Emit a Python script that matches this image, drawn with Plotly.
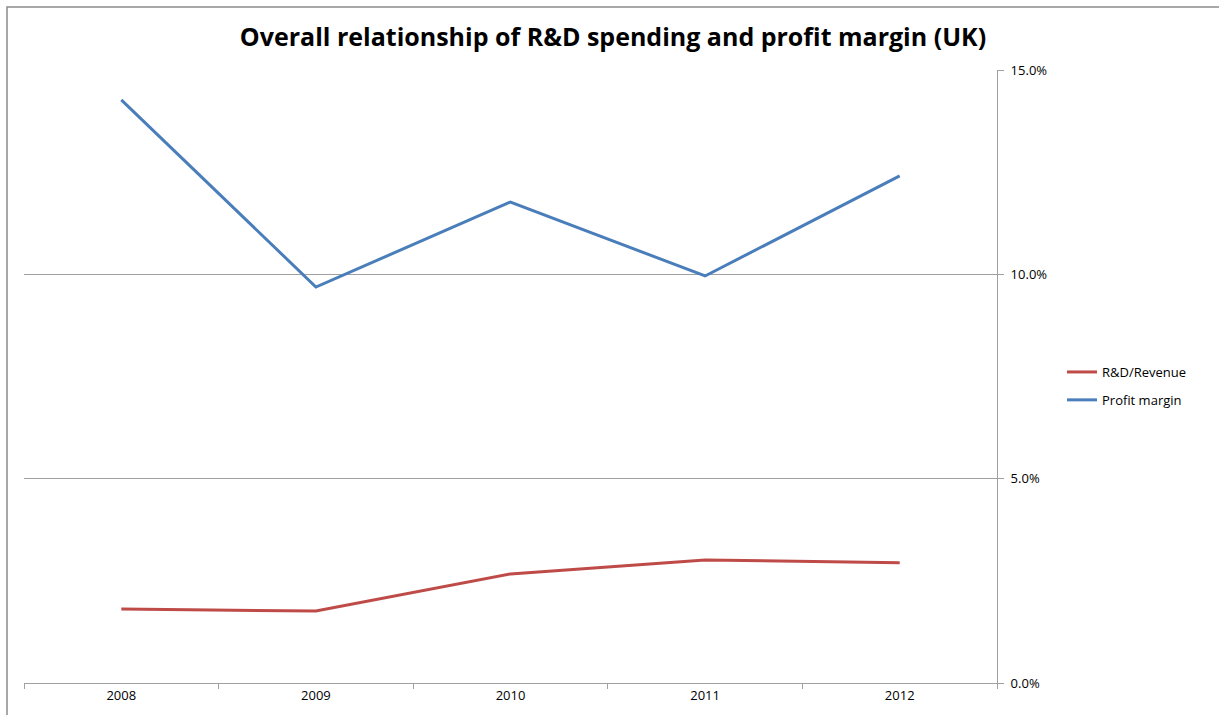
import plotly.graph_objects as go

years = ["2008", "2009", "2010", "2011", "2012"]
rd_revenue = [1.81, 1.76, 2.67, 3.01, 2.94]       # R&D spending as % of revenue
profit_margin = [14.27, 9.69, 11.77, 9.96, 12.41]  # profit margin, %
y_ticks = [0, 5, 10, 15]
y_tick_labels = ["0.0%", "5.0%", "10.0%", "15.0%"]

W, H = 1219, 715
L, R, T, B = 24, 222, 70, 32
pw, ph = W - L - R, H - T - B

fig = go.Figure()
fig.add_trace(go.Scatter(x=years, y=rd_revenue, mode="lines", name="R&D/Revenue",
                         legendgroup="rd",
                         line=dict(color="#BE4B48", width=3)))
fig.add_trace(go.Scatter(x=years, y=profit_margin, mode="lines", name="Profit margin",
                         legendgroup="pm",
                         line=dict(color="#4A7EBB", width=3)))

# outer chart frame
fig.add_shape(type="rect", xref="paper", yref="paper",
              x0=(7 - L) / pw, x1=(W + 20 - L) / pw,
              y0=-(B + 20) / ph, y1=1 + (T - 7) / ph,
              line=dict(color="#8C8C8C", width=1.5), layer="below")

fig.update_layout(
    width=W, height=H,
    margin=dict(l=L, r=R, t=T, b=B),
    paper_bgcolor="white", plot_bgcolor="white",
    title=dict(text="<b>Overall relationship of R&D spending and profit margin (UK)</b>",
               x=(613 - L) / pw, xref="paper", xanchor="center",
               y=1 - 37 / H, yanchor="middle",
               font=dict(family="Open Sans", size=25, color="black")),
    showlegend=True,
    legend=dict(x=(1062 - L) / pw, xanchor="left", y=1 - (386 - T) / ph, yanchor="middle",
                font=dict(family="Open Sans", size=13, color="black"),
                bgcolor="rgba(0,0,0,0)", tracegroupgap=8),
    font=dict(family="Open Sans", size=13, color="black"),
)
fig.update_xaxes(type="category", range=[-0.5, 4.5], tickson="boundaries",
                 ticks="outside", ticklen=5, tickcolor="#A0A0A0",
                 showline=True, linecolor="#A0A0A0", linewidth=1,
                 showgrid=False, tickfont=dict(size=13), fixedrange=True)
fig.update_yaxes(side="right", range=[0, 15], tickvals=y_ticks, ticktext=y_tick_labels,
                 ticks="outside", ticklen=6, tickcolor="#A0A0A0", ticklabelstandoff=4,
                 showline=True, linecolor="#A0A0A0", linewidth=1,
                 showgrid=True, gridcolor="#A0A0A0", gridwidth=1,
                 zeroline=False, tickfont=dict(size=13), fixedrange=True)

fig.write_html("out.html")
